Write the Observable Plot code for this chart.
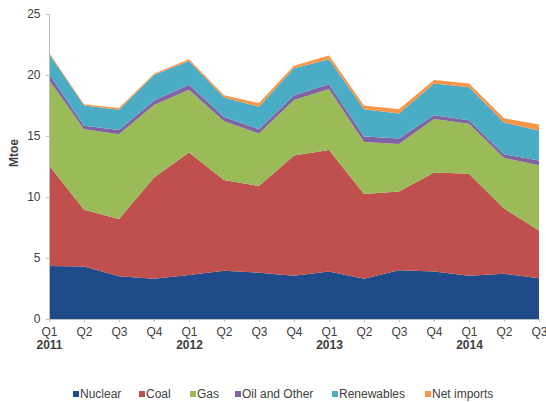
<!DOCTYPE html>
<html>
<head>
<meta charset="utf-8">
<script src="https://cdn.jsdelivr.net/npm/d3@7"></script>
<script src="https://cdn.jsdelivr.net/npm/@observablehq/plot@0.6"></script>
<style>
  html, body { margin: 0; padding: 0; background: #fff; }
  #chart { width: 546px; height: 402px; position: relative; overflow: hidden; }
  .legend { position: absolute; top: 387px; left: 0; width: 546px; height: 14px;
            font-family: "Liberation Sans", Arial, sans-serif; font-size: 12px; color: #404040; }
  .legend .item { position: absolute; top: 0; display: flex; align-items: center; white-space: nowrap; line-height: 14px; }
  .legend .sw { width: 6px; height: 6px; margin-right: 1px; display: inline-block; }
</style>
</head>
<body>
<div id="chart"></div>
<script>
const quarters = ["Q1","Q2","Q3","Q4","Q1","Q2","Q3","Q4","Q1","Q2","Q3","Q4","Q1","Q2","Q3"];
const yearLabels = ["2011","","","","2012","","","","2013","","","","2014","",""];
const yTicks = [0, 5, 10, 15, 20, 25];
const series = ["Nuclear", "Coal", "Gas", "Oil and Other", "Renewables", "Net imports"];
const colors = ["#1f4b8a", "#c0504d", "#9bbb59", "#8064a2", "#4bacc6", "#f79646"];

const nuclear     = [4.35, 4.3, 3.5, 3.3, 3.6, 3.95, 3.8, 3.55, 3.9, 3.3, 4.0, 3.9, 3.55, 3.7, 3.35];
const coal        = [8.25, 4.65, 4.7, 8.3, 10.05, 7.45, 7.1, 9.85, 9.95, 6.95, 6.45, 8.1, 8.35, 5.35, 3.9];
const gas         = [7.0, 6.6, 6.95, 5.95, 5.15, 4.8, 4.3, 4.55, 5.0, 4.25, 3.9, 4.4, 4.1, 4.15, 5.35];
const oilOther    = [0.5, 0.3, 0.35, 0.35, 0.4, 0.35, 0.35, 0.4, 0.4, 0.45, 0.45, 0.3, 0.3, 0.3, 0.4];
const renewables  = [1.65, 1.65, 1.65, 2.1, 1.95, 1.6, 1.85, 2.2, 2.05, 2.25, 2.05, 2.6, 2.7, 2.6, 2.45];
const netImports  = [0.1, 0.1, 0.15, 0.1, 0.15, 0.2, 0.3, 0.2, 0.3, 0.3, 0.35, 0.3, 0.3, 0.35, 0.5];

const seriesValues = [nuclear, coal, gas, oilOther, renewables, netImports];
const data = series.flatMap((s, k) => seriesValues[k].map((v, i) => ({i, series: s, value: v})));
const yearData = yearLabels.map((y, i) => ({i, y})).filter(d => d.y);

const plot = Plot.plot({
  width: 546,
  height: 360,
  marginLeft: 49,
  marginRight: 7,
  marginTop: 14,
  marginBottom: 41,
  style: {fontFamily: "'Liberation Sans', Arial, sans-serif", fontSize: "12px", color: "#404040", background: "#fff"},
  x: {domain: [0, quarters.length - 1]},
  y: {domain: [0, 25]},
  color: {domain: series, range: colors},
  marks: [
    Plot.areaY(data, {x: "i", y: "value", fill: "series", order: series, curve: "linear"}),
    Plot.axisY({ticks: yTicks, tickSize: 3, tickPadding: 6, stroke: "#bfbfbf", label: null, fill: "#404040"}),
    Plot.ruleX([0], {stroke: "#bfbfbf"}),
    Plot.ruleY([0], {stroke: "#bfbfbf"}),
    Plot.axisX({ticks: d3.range(quarters.length), tickFormat: i => quarters[i], tickSize: 3, tickPadding: 5, stroke: "#bfbfbf", label: null, fill: "#404040"}),
    Plot.text(yearData, {x: "i", y: () => 0, text: "y", lineAnchor: "top", dy: 21, fontWeight: "bold", fill: "#404040"}),
    Plot.text(["Mtoe"], {frameAnchor: "left", dx: -35, rotate: -90, fontWeight: "bold", fill: "#404040"})
  ]
});

const chart = document.getElementById("chart");
chart.appendChild(plot);

const legendLefts = [73, 139, 190, 235, 332, 425];
const legend = document.createElement("div");
legend.className = "legend";
series.forEach((s, k) => {
  const item = document.createElement("div");
  item.className = "item";
  item.style.left = legendLefts[k] + "px";
  const sw = document.createElement("span");
  sw.className = "sw";
  sw.style.background = colors[k];
  const t = document.createElement("span");
  t.textContent = s;
  item.appendChild(sw);
  item.appendChild(t);
  legend.appendChild(item);
});
chart.appendChild(legend);
</script>
</body>
</html>
